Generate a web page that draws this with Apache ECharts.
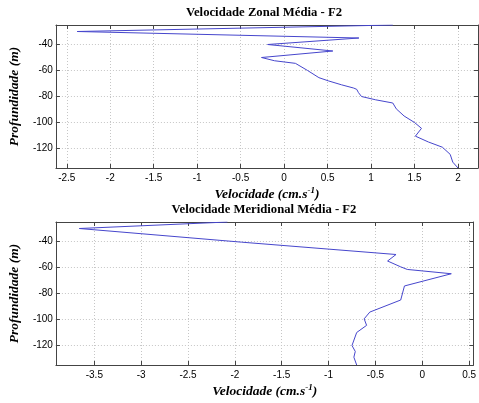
<!DOCTYPE html>
<html>
<head>
<meta charset="utf-8">
<script src="https://cdn.jsdelivr.net/npm/echarts@6/dist/echarts.min.js"></script>
<style>
  html, body { margin: 0; padding: 0; background: #fff; }
  #chart { width: 479px; height: 403px; }
</style>
</head>
<body>
<div id="chart"></div>
<script>
// perfil zonal (cm/s) x profundidade (m)
const zonalVel = [1.25, -2.38, 0.86, -0.19, 0.56, -0.26, -0.11, 0.13, 0.27, 0.40, 0.51, 0.66, 0.80, 0.835, 0.855, 0.89, 1.05, 1.25, 1.29, 1.38, 1.50, 1.58, 1.51, 1.66, 1.82, 1.91, 1.93, 1.94, 2.0]
const zonalDepth = [-25, -30, -35, -40, -45, -50, -52.5, -54.5, -60, -65.5, -68, -71, -73.5, -74.5, -77, -80, -82.5, -85, -89.5, -95, -100, -104.5, -110.5, -115, -119, -124.5, -126, -130.5, -135]

// perfil meridional
const meridVel = [-2.08, -3.66, -1.93, -0.28, -0.37, -0.23, -0.16, 0.31, -0.19, -0.23, -0.56, -0.62, -0.594, -0.70, -0.75, -0.715, -0.73, -0.70]
const meridDepth = [-25, -30, -40.5, -50, -55, -59.5, -61.5, -64.8, -74.2, -85, -94.3, -99.5, -104.5, -110, -120, -124.6, -129, -135]

const zonalTicks = [-2.5, -2, -1.5, -1, -0.5, 0, 0.5, 1, 1.5, 2]
const meridTicks = [-3.5, -3, -2.5, -2, -1.5, -1, -0.5, 0, 0.5]
const depthTicks = [-120, -100, -80, -60, -40]

const titles = ['Velocidade Zonal Média - F2', 'Velocidade Meridional Média - F2']

const serif = '"Liberation Serif", "Times New Roman", serif'
const sans = '"Liberation Sans", Arial, sans-serif'
const lineColor = '#4646cc'
const boxColor = '#444'
const gridColor = '#c6c6c6'

function bottomAxis(gridIndex, min, max, ticks) {
  return {
    type: 'value',
    gridIndex,
    position: 'bottom',
    min,
    max,
    name: '{a|Velocidade (cm.s}{b|-1}{a|)}',
    nameLocation: 'middle',
    nameGap: 18,
    nameTextStyle: {
      rich: {
        a: { fontFamily: serif, fontStyle: 'italic', fontWeight: 'bold', fontSize: 13.5, color: '#000', lineHeight: 16, verticalAlign: 'bottom' },
        b: { fontFamily: serif, fontStyle: 'italic', fontWeight: 'bold', fontSize: 9, color: '#000', verticalAlign: 'bottom', padding: [0, 0, 7, 0] }
      }
    },
    axisLine: { onZero: false, lineStyle: { color: boxColor, width: 1 } },
    axisTick: { inside: true, length: 4, customValues: ticks, lineStyle: { color: boxColor } },
    axisLabel: { customValues: ticks, color: '#000', fontFamily: sans, fontSize: 10, margin: 5 },
    splitLine: { show: true, lineStyle: { color: gridColor, type: [1, 2], width: 1 } }
  }
}

function topAxis(gridIndex, min, max, ticks) {
  return {
    type: 'value',
    gridIndex,
    position: 'top',
    min,
    max,
    axisLine: { onZero: false, lineStyle: { color: boxColor, width: 1 } },
    axisTick: { inside: true, length: 4, customValues: ticks, lineStyle: { color: boxColor } },
    axisLabel: { show: false },
    splitLine: { show: false }
  }
}

function leftAxis(gridIndex) {
  return {
    type: 'value',
    gridIndex,
    position: 'left',
    min: -135,
    max: -25,
    name: 'Profundidade (m)',
    nameLocation: 'middle',
    nameGap: 25,
    nameTextStyle: { fontFamily: serif, fontStyle: 'italic', fontWeight: 'bold', fontSize: 13.5, color: '#000' },
    axisLine: { onZero: false, lineStyle: { color: boxColor, width: 1 } },
    axisTick: { inside: true, length: 4, customValues: depthTicks, lineStyle: { color: boxColor } },
    axisLabel: { customValues: depthTicks, color: '#000', fontFamily: sans, fontSize: 10, margin: 3 },
    splitLine: { show: true, lineStyle: { color: gridColor, type: [1, 2], width: 1 } }
  }
}

function rightAxis(gridIndex) {
  return {
    type: 'value',
    gridIndex,
    position: 'right',
    min: -135,
    max: -25,
    axisLine: { onZero: false, lineStyle: { color: boxColor, width: 1 } },
    axisTick: { inside: true, length: 4, customValues: depthTicks, lineStyle: { color: boxColor } },
    axisLabel: { show: false },
    splitLine: { show: false }
  }
}

const chart = echarts.init(document.getElementById('chart'))

chart.setOption({
  animation: false,
  backgroundColor: '#fff',
  grid: [
    { left: 50, top: 25, width: 428, height: 143 },
    { left: 50, top: 222, width: 428, height: 143 }
  ],
  graphic: [
    { type: 'text', x: 264, y: 6, style: { text: titles[0], fill: '#000', font: 'bold 12.7px ' + serif, textAlign: 'center' } },
    { type: 'text', x: 264, y: 203, style: { text: titles[1], fill: '#000', font: 'bold 12.7px ' + serif, textAlign: 'center' } }
  ],
  xAxis: [
    bottomAxis(0, -2.625, 2.23, zonalTicks),
    topAxis(0, -2.625, 2.23, zonalTicks),
    bottomAxis(1, -3.91, 0.546, meridTicks),
    topAxis(1, -3.91, 0.546, meridTicks)
  ],
  yAxis: [leftAxis(0), rightAxis(0), leftAxis(1), rightAxis(1)],
  series: [
    {
      type: 'line',
      xAxisIndex: 0,
      yAxisIndex: 0,
      showSymbol: false,
      data: zonalVel.map((v, i) => [v, zonalDepth[i]]),
      lineStyle: { color: lineColor, width: 1 }
    },
    {
      type: 'line',
      xAxisIndex: 2,
      yAxisIndex: 2,
      showSymbol: false,
      data: meridVel.map((v, i) => [v, meridDepth[i]]),
      lineStyle: { color: lineColor, width: 1 }
    }
  ]
})
</script>
</body>
</html>
